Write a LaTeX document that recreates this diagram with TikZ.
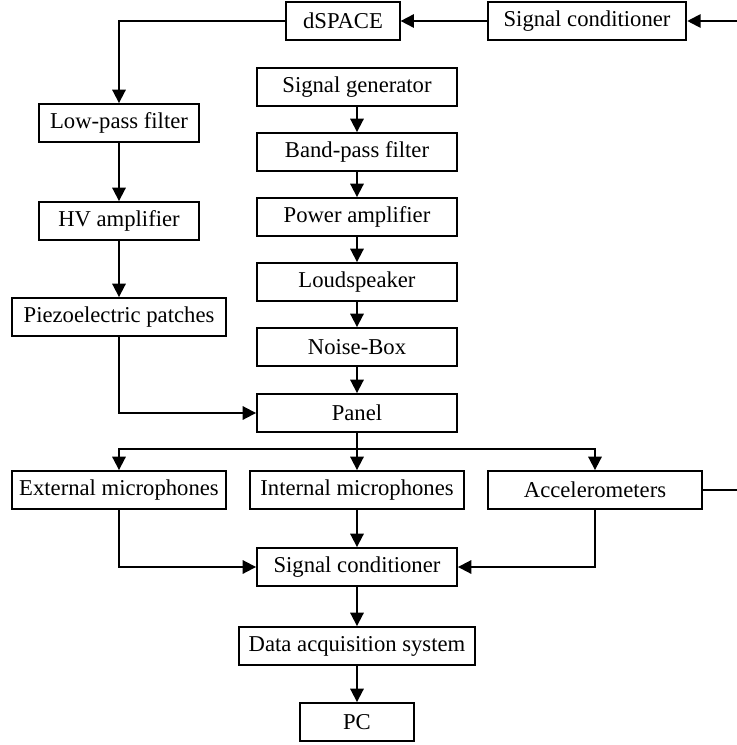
\documentclass[tikz,border=0pt]{standalone}
\usepackage{fontspec}
\setmainfont{Liberation Serif}
\usetikzlibrary{arrows.meta}

\begin{document}
\begin{tikzpicture}[
    x=0.75pt, y=-0.75pt,
    box/.style={draw, rectangle, line width=1.4pt, minimum height=28.5pt, inner sep=2pt,
        font=\fontsize{17}{20}\selectfont},
    arrow/.style={-{Triangle[length=10pt,width=10pt]}, line width=1.4pt},
    plain/.style={line width=1.4pt}
]
    \useasboundingbox (0,0) rectangle (737,745);

    % Control loop (top)
    \node[box, minimum width=85pt] (dspace) at (343,21) {dSPACE};
    \node[box, minimum width=149pt] (condtop) at (587,21) {Signal conditioner};
    \coordinate (inR) at (737,21);

    % Actuator chain
    \node[box, minimum width=120pt] (lowpass) at (119,123) {Low-pass filter};
    \node[box, minimum width=120pt] (hvamp) at (119,221) {HV amplifier};
    \node[box, minimum width=161pt] (piezo) at (119,317) {Piezoelectric patches};

    % Noise source chain
    \node[box, minimum width=150pt] (siggen) at (357,87) {Signal generator};
    \node[box, minimum width=150pt] (bandpass) at (357,152) {Band-pass filter};
    \node[box, minimum width=150pt] (poweramp) at (357,217) {Power amplifier};
    \node[box, minimum width=150pt] (speaker) at (357,282) {Loudspeaker};
    \node[box, minimum width=150pt] (noisebox) at (357,347) {Noise-Box};
    \node[box, minimum width=150pt] (panel) at (357,413) {Panel};

    % Sensors
    \coordinate (split) at (357,449);
    \node[box, minimum width=161pt] (extmic) at (119,490) {External microphones};
    \node[box, minimum width=161pt] (intmic) at (357,490) {Internal microphones};
    \node[box, minimum width=161pt] (accel) at (595,490) {Accelerometers};
    \coordinate (outR) at (737,490);

    % Acquisition
    \node[box, minimum width=150pt] (condbot) at (357,567) {Signal conditioner};
    \node[box, minimum width=177pt] (daq) at (357,646) {Data acquisition system};
    \node[box, minimum width=85pt] (pc) at (357,722) {PC};

    % Arrows
    \draw[arrow] (inR) -- (condtop);
    \draw[arrow] (condtop) -- (dspace);
    \draw[arrow] (dspace.west) -| (lowpass.north);
    \draw[arrow] (lowpass) -- (hvamp);
    \draw[arrow] (hvamp) -- (piezo);
    \draw[arrow] (piezo.south) |- (panel.west);

    \draw[arrow] (siggen) -- (bandpass);
    \draw[arrow] (bandpass) -- (poweramp);
    \draw[arrow] (poweramp) -- (speaker);
    \draw[arrow] (speaker) -- (noisebox);
    \draw[arrow] (noisebox) -- (panel);

    \draw[plain] (panel.south) -- (split);
    \draw[arrow] (split) -| (extmic.north);
    \draw[arrow] (split) -- (intmic.north);
    \draw[arrow] (split) -| (accel.north);
    \draw[plain] (accel.east) -- (outR);

    \draw[arrow] (extmic.south) |- (condbot.west);
    \draw[arrow] (intmic) -- (condbot);
    \draw[arrow] (accel.south) |- (condbot.east);
    \draw[arrow] (condbot) -- (daq);
    \draw[arrow] (daq) -- (pc);

\end{tikzpicture}
\end{document}
